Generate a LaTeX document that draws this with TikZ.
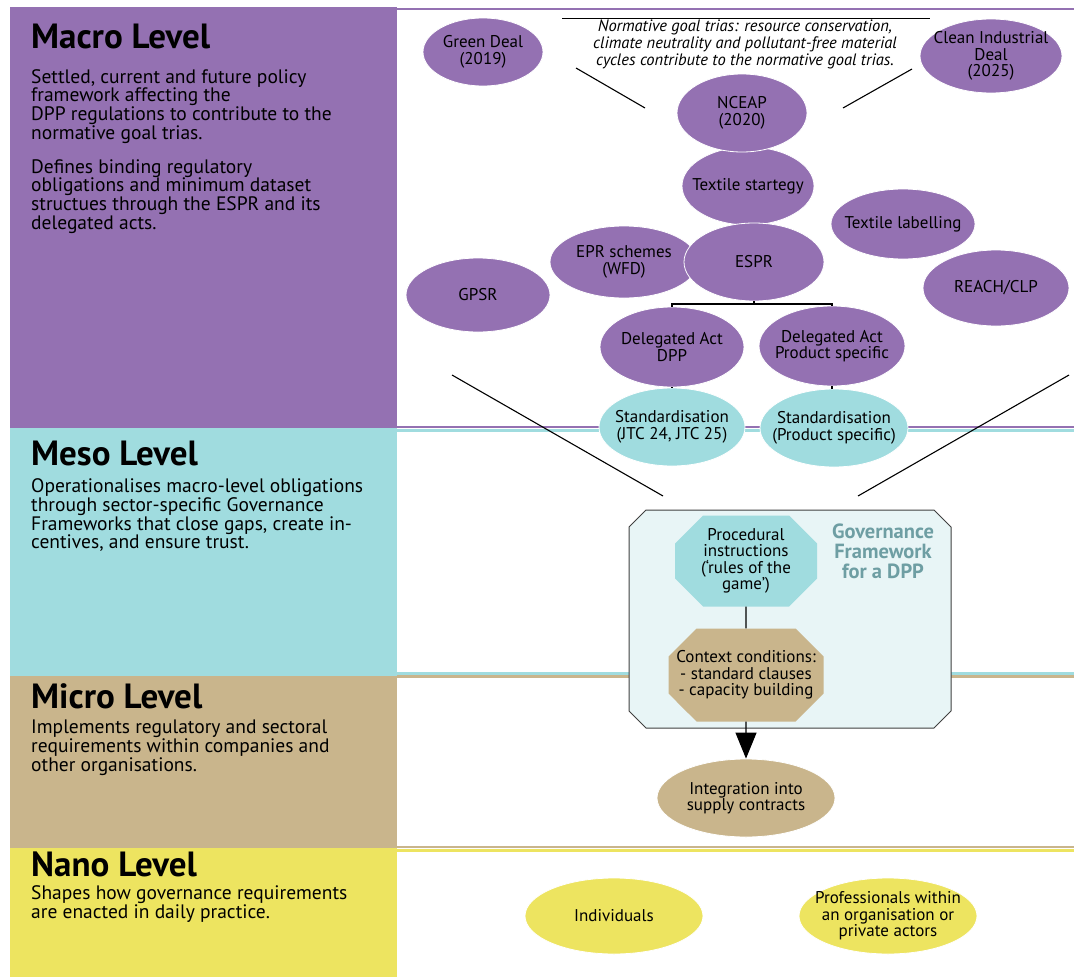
\documentclass[tikz,border=0pt]{standalone}
\usepackage{fontspec}
\setmainfont{PT Sans}
\usetikzlibrary{shapes.geometric,shapes.misc,arrows.meta}
\definecolor{lvPurple}{HTML}{9471B2}
\definecolor{lvTeal}{HTML}{A0DCDF}
\definecolor{lvTan}{HTML}{C9B58C}
\definecolor{lvYellow}{HTML}{EDE460}
\definecolor{lvGovFill}{HTML}{E8F5F6}
\definecolor{lvGovText}{HTML}{6E9EA3}

\begin{document}
\begin{tikzpicture}[x=1pt,y=-1pt]
\tikzset{
    lvSize/.style 2 args={minimum width=#1pt,minimum height=#2pt},
    lvEllipse/.style={ellipse,inner sep=-16pt,align=center,draw=white,line width=0.8pt,font=\fontsize{17}{16.5}\selectfont},
    lvMacro/.style={lvEllipse,fill=lvPurple},
    lvMeso/.style={lvEllipse,fill=lvTeal},
    lvMicro/.style={lvEllipse,fill=lvTan},
    lvNano/.style={lvEllipse,fill=lvYellow},
    lvOcta/.style={chamfered rectangle,chamfered rectangle xsep=14pt,chamfered rectangle ysep=14pt,inner sep=-7pt,align=center,font=\fontsize{17}{16.5}\selectfont},
    lvHead/.style={anchor=base west,inner sep=0pt,font=\fontsize{35}{35}\selectfont\bfseries},
    lvBody/.style={anchor=north west,inner sep=0pt,align=left,font=\fontsize{19.5}{17.3}\selectfont},
    lvLink/.style={black,line width=1.1pt}
}
\useasboundingbox (0,0) rectangle (1074,977);

% level bands on the left
\fill[lvPurple] (10,7) rectangle (397,428);
\fill[lvTeal] (10,428) rectangle (397,676);
\fill[lvTan] (10,676) rectangle (397,848);
\fill[lvYellow] (10,848) rectangle (397,977);

% band borders on the right
\draw[lvPurple,line width=2.5pt] (397,9) -- (1074,9);
\draw[lvPurple,line width=2.4pt] (397,427) -- (1074,427);
\draw[lvTeal,line width=2.6pt] (397,430.5) -- (1074,430.5);
\draw[lvTeal,line width=2.4pt] (397,673.5) -- (1074,673.5);
\draw[lvTan,line width=2.6pt] (397,676.5) -- (1074,676.5);
\draw[lvTan,line width=2.4pt] (397,847) -- (1074,847);
\draw[lvYellow,line width=2.6pt] (397,850.5) -- (1074,850.5);

% level texts
\node[lvHead] (macroHead) at (31,48) {Macro Level};
\node[lvBody] (macroTextA) at (31,69) {Settled, current and future policy\\framework affecting the\\DPP regulations to contribute to the\\normative goal trias.};
\node[lvBody] (macroTextB) at (31,159) {Defines binding regulatory\\obligations and minimum dataset\\structues through the ESPR and its\\delegated acts.};
\node[lvHead] (mesoHead) at (31,465) {Meso Level};
\node[lvBody] (mesoText) at (31,478) {Operationalises macro-level obligations\\through sector-specific Governance\\Frameworks that close gaps, create in-\\centives, and ensure trust.};
\node[lvHead] (microHead) at (31,708) {Micro Level};
\node[lvBody] (microText) at (31,720) {Implements regulatory and sectoral\\requirements within companies and\\other organisations.};
\node[lvHead] (nanoHead) at (31,876) {Nano Level};
\node[lvBody] (nanoText) at (31,885) {Shapes how governance requirements\\are enacted in daily practice.};

% normative goal trias
\coordinate (triasL) at (562,18);
\coordinate (triasR) at (930,18);
\draw[black,line width=1pt] (triasL) -- (triasR);
\node[anchor=north,inner sep=0pt,align=center,font=\fontsize{16.5}{17}\selectfont\itshape] (trias) at (745,20)
    {Normative goal trias: resource conservation,\\climate neutrality and pollutant-free material\\cycles contribute to the normative goal trias.};

% macro level nodes
\node[lvMacro,lvSize={120}{68}] (greenDeal) at (483,52) {Green Deal\\(2019)};
\node[lvMacro,lvSize={142}{74}] (cleanDeal) at (991,56) {Clean Industrial\\Deal\\(2025)};
\node[lvMacro,lvSize={132}{78}] (textStrat) at (748,186) {Textile startegy};
\node[lvMacro,lvSize={130}{78}] (nceap) at (742,113) {NCEAP\\(2020)};
\node[lvMacro,lvSize={144}{70}] (textLabel) at (903,224) {Textile labelling};
\node[lvMacro,lvSize={148}{72}] (eprSchemes) at (624,262) {EPR schemes\\(WFD)};
\node[lvMacro,lvSize={140}{78}] (espr) at (754,262) {ESPR};
\node[lvMacro,lvSize={144}{74}] (gpsr) at (478,295) {GPSR};
\node[lvMacro,lvSize={146}{76}] (reach) at (996,288) {REACH/CLP};
\node[lvMacro,lvSize={144}{80}] (daDpp) at (672,347) {Delegated Act\\DPP};
\node[lvMacro,lvSize={146}{80}] (daProd) at (832,346) {Delegated Act\\Product specific};
\node[lvMeso,lvSize={146}{78}] (stdJtc) at (672,427) {Standardisation\\(JTC 24, JTC 25)};
\node[lvMeso,lvSize={148}{78}] (stdProd) at (834,428) {Standardisation\\(Product specific)};

% links to NCEAP
\coordinate (linkGdA) at (576,68);
\coordinate (linkGdB) at (645,108);
\coordinate (linkCdA) at (912,69);
\coordinate (linkCdB) at (843,108);
\draw[lvLink] (linkGdA) -- (linkGdB);
\draw[lvLink] (linkCdA) -- (linkCdB);

% ESPR and delegated acts
\coordinate (esprFork) at (754,304);
\draw[lvLink] (espr) -- (esprFork);
\draw[lvLink] (daDpp.north) |- (esprFork) -| (daProd.north);
\draw[lvLink] (daDpp) -- (stdJtc);
\draw[lvLink] (daProd.south) -- (daProd.south |- stdProd.north);

% funnel into the governance framework
\coordinate (funnelLA) at (452,375);
\coordinate (funnelLB) at (663,496);
\coordinate (funnelRA) at (1069,375);
\coordinate (funnelRB) at (858,496);
\draw[lvLink] (funnelLA) -- (funnelLB);
\draw[lvLink] (funnelRA) -- (funnelRB);

% governance framework
\filldraw[fill=lvGovFill,draw=black!75,line width=1pt]
    (646,510) -- (934,510) -- (951,527) -- (951,711) -- (934,728)
    -- (646,728) -- (629,711) -- (629,527) -- cycle;
\node[lvOcta,fill=lvTeal,lvSize={142}{91}] (procInstr) at (746,561) {Procedural\\instructions\\(`rules of the\\game')};
\node[lvOcta,fill=lvTan,lvSize={155}{93}] (ctxCond) at (746,675) {Context conditions:\\- standard clauses\\- capacity building};
\node[align=center,inner sep=0pt,text=lvGovText,font=\fontsize{20.5}{20}\selectfont\bfseries] (govTitle) at (883,551) {Governance\\Framework\\for a DPP};
\draw[lvLink] (procInstr) -- (ctxCond);

% micro and nano level nodes
\node[lvMicro,lvSize={178}{78}] (integr) at (746,798) {Integration into\\supply contracts};
\draw[lvLink,-{Triangle[width=21pt,length=26pt]}] (ctxCond) -- (integr);
\node[lvNano,lvSize={178}{76}] (indiv) at (614,916) {Individuals};
\node[lvNano,lvSize={178}{76}] (profs) at (888,916) {Professionals within\\an organisation or\\private actors};
\end{tikzpicture}
\end{document}
